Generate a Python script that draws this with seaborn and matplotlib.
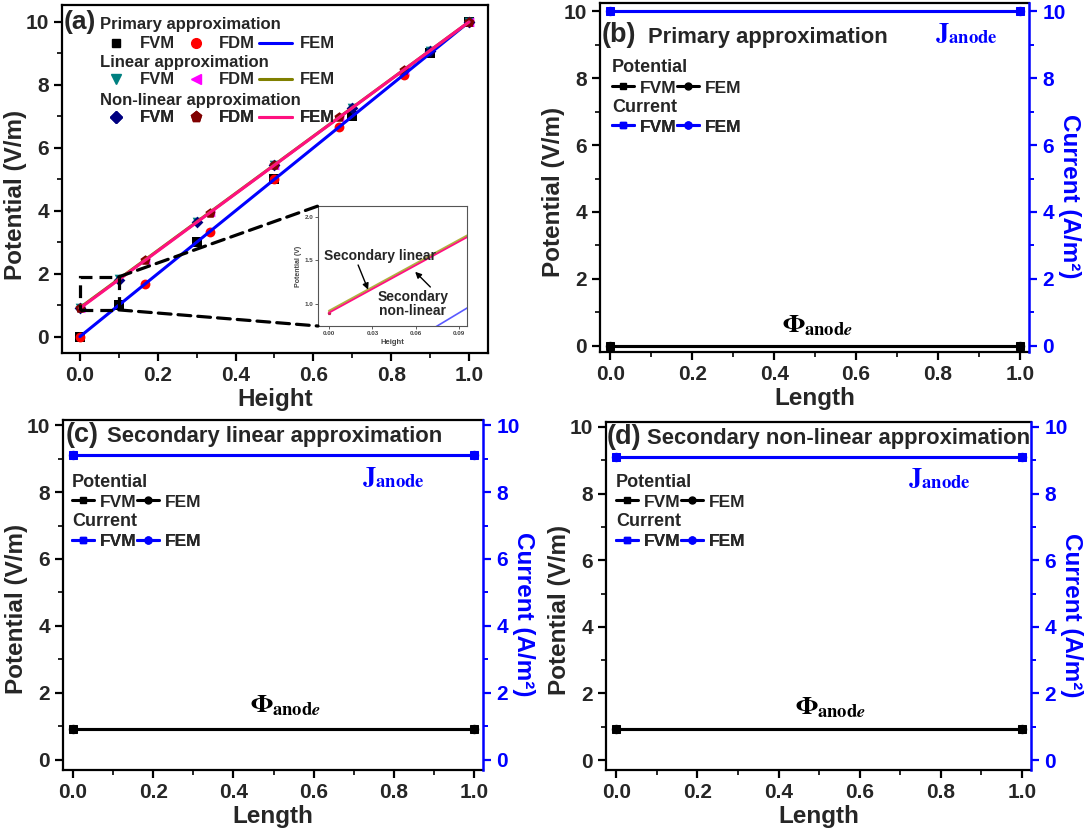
import numpy as np
import pandas as pd
import matplotlib
matplotlib.use('Agg')
import matplotlib.pyplot as plt
import seaborn as sns
from matplotlib.lines import Line2D
from matplotlib.patches import Rectangle, ConnectionPatch
from matplotlib.ticker import MultipleLocator

# ---------------- data ----------------
fvm_x = [0.0, 0.1, 0.3, 0.5, 0.7, 0.9, 1.0]
fdm_x = [0.0, 0.1667, 0.3333, 0.5, 0.6667, 0.8333, 1.0]
fem_x = [0.0, 1.0]
primary_fvm = [0.0, 1.0, 3.0, 5.0, 7.0, 9.0, 10.0]
primary_fdm = [0.0, 1.67, 3.33, 5.0, 6.67, 8.33, 10.0]
primary_fem = [0.0, 10.0]
linear_fvm = [0.92, 1.83, 3.64, 5.46, 7.27, 9.09, 10.0]
linear_fdm = [0.92, 2.43, 3.95, 5.46, 6.97, 8.49, 10.0]
linear_fem = [0.92, 10.0]
nonlin_fvm = [0.90, 1.81, 3.63, 5.45, 7.27, 9.09, 10.0]
nonlin_fdm = [0.90, 2.42, 3.93, 5.45, 6.97, 8.48, 10.0]
nonlin_fem = [0.90, 10.0]

length_x = [0.0, 1.0]
phi_b = [0.0, 0.0]
j_b = [10.0, 10.0]
phi_c = [0.93, 0.93]
j_c = [9.1, 9.1]
phi_d = [0.92, 0.92]
j_d = [9.1, 9.1]

zoom_x = (0.0, 0.1)
zoom_y = (0.85, 1.9)

# ---------------- style ----------------
sns.set_theme(style='ticks')
plt.rcParams['font.family'] = ['Liberation Sans', 'DejaVu Sans']
plt.rcParams['font.weight'] = 'bold'
plt.rcParams['axes.labelweight'] = 'bold'
plt.rcParams['axes.linewidth'] = 1.6

W, H = 1087, 830
fig = plt.figure(figsize=(W / 100, H / 100), dpi=100)


def fpt(x, y):
    return (x / W, 1 - y / H)


def rect(x0, y0, x1, y1):
    return [x0 / W, 1 - y1 / H, (x1 - x0) / W, (y1 - y0) / H]


TICK = 15
XLAB = 17.5
YLAB = 17.5


def style_axis(ax):
    ax.xaxis.set_major_locator(MultipleLocator(0.2))
    ax.xaxis.set_minor_locator(MultipleLocator(0.1))
    ax.yaxis.set_major_locator(MultipleLocator(2))
    ax.yaxis.set_minor_locator(MultipleLocator(1))
    ax.tick_params(which='major', direction='out', length=6, width=1.6,
                   labelsize=TICK, color='black')
    ax.tick_params(which='minor', direction='out', length=3.5, width=1.4)
    for s in ax.spines.values():
        s.set_linewidth(1.6)
        s.set_color('black')


# ================= panel (a) =================
axa = fig.add_axes(rect(62, 5, 488, 353))
style_axis(axa)
axa.set_xlim(-0.046, 1.049)
axa.set_ylim(-0.52, 10.54)

mk = dict(ax=axa, legend=False, linewidth=0, zorder=3)
sns.scatterplot(x=fvm_x, y=primary_fvm, marker='s', color='black', s=42, **mk)
sns.scatterplot(x=fdm_x, y=primary_fdm, marker='o', color='red', s=50, **mk)
sns.scatterplot(x=fvm_x, y=linear_fvm, marker='v', color='#008080', s=48, **mk)
sns.scatterplot(x=fdm_x, y=linear_fdm, marker='<', color='#FF00FF', s=48, **mk)
sns.scatterplot(x=fvm_x, y=nonlin_fvm, marker='D', color='#000080', s=36, **mk)
sns.scatterplot(x=fdm_x, y=nonlin_fdm, marker='p', color='#800000', s=58, **mk)
sns.lineplot(x=fem_x, y=primary_fem, color='blue', lw=2.2, ax=axa, zorder=4)
sns.lineplot(x=fem_x, y=linear_fem, color='#808000', lw=2.2, ax=axa, zorder=4)
sns.lineplot(x=fem_x, y=nonlin_fem, color='#FF1080', lw=2.2, ax=axa, zorder=4)

axa.set_xlabel('Height', fontsize=XLAB, labelpad=2)
axa.set_ylabel('Potential (V/m)', fontsize=YLAB, labelpad=-1)
axa.yaxis.label.set_y(0.455)

# zoom rectangle + connectors
axa.add_patch(Rectangle((zoom_x[0], zoom_y[0]), zoom_x[1] - zoom_x[0],
                        zoom_y[1] - zoom_y[0], fill=False, ls=(0, (4, 2.2)),
                        lw=2.3, color='black', zorder=5))

# inset
axi = fig.add_axes(rect(318, 206, 467, 326))
axi.set_facecolor('white')
sns.lineplot(x=fem_x, y=primary_fem, color='#5a5aff', lw=1.2, ax=axi)
sns.lineplot(x=fem_x, y=linear_fem, color='#B0B040', lw=1.6, ax=axi)
sns.lineplot(x=fem_x, y=nonlin_fem, color='#FF1080', lw=1.3, ax=axi)
sns.scatterplot(x=fdm_x[:1], y=nonlin_fdm[:1], marker='p', color='#C02050',
                s=8, ax=axi, legend=False, linewidth=0)
axi.set_xlim(-0.0076, 0.0953)
axi.set_ylim(0.747, 2.126)
axi.xaxis.set_major_locator(MultipleLocator(0.03))
axi.yaxis.set_major_locator(MultipleLocator(0.5))
axi.xaxis.set_major_formatter(plt.FormatStrFormatter('%.2f'))
axi.yaxis.set_major_formatter(plt.FormatStrFormatter('%.1f'))
axi.tick_params(labelsize=4.5, length=2, width=0.6, colors='#444444', pad=1.5)
for s in axi.spines.values():
    s.set_linewidth(0.8)
    s.set_color('#555555')
axi.set_xlabel('Height', fontsize=5.5, color='#444444', labelpad=2)
axi.set_ylabel('Potential (V)', fontsize=5, color='#444444', labelpad=2)
axi.text(0.0353, 1.552, 'Secondary linear', ha='center', va='center',
         fontsize=10)
axi.text(0.058, 1.0, 'Secondary\nnon-linear', ha='center', va='center',
         fontsize=10, linespacing=1.05)
arrow_kw = dict(arrowstyle='-|>', color='black', lw=1.0, mutation_scale=9,
                shrinkA=0, shrinkB=0)
axi.annotate('', xy=(0.027, 1.165), xytext=(0.0201, 1.448), arrowprops=arrow_kw)
axi.annotate('', xy=(0.0595, 1.37), xytext=(0.070, 1.195), arrowprops=arrow_kw)

for (xa, xb) in [((zoom_x[1], zoom_y[1]), (0, 1)), ((zoom_x[1], zoom_y[0]), (0, 0))]:
    con = ConnectionPatch(xyA=xa, coordsA=axa.transData, xyB=xb,
                          coordsB=axi.transAxes, ls=(0, (4, 2.2)), lw=2.3,
                          color='black', zorder=2)
    fig.add_artist(con)

# panel (a) legend
fig.text(*fpt(64, 22), '(a)', fontsize=19, va='center', ha='left')
heads = [('Primary approximation', 24), ('Linear approximation', 62),
         ('Non-linear approximation', 100)]
for t, yy in heads:
    fig.text(*fpt(100, yy), t, fontsize=12, va='center', ha='left')

rows = [
    (44, [Line2D([], [], ls='none', marker='s', color='black', ms=6),
          Line2D([], [], ls='none', marker='o', color='red', ms=7),
          Line2D([], [], color='blue', lw=2.2)]),
    (80, [Line2D([], [], ls='none', marker='v', color='#008080', ms=7),
          Line2D([], [], ls='none', marker='<', color='#FF00FF', ms=7),
          Line2D([], [], color='#808000', lw=2.2)]),
    (118, [Line2D([], [], ls='none', marker='D', color='#000080', ms=6),
           Line2D([], [], ls='none', marker='p', color='#800000', ms=8),
           Line2D([], [], color='#FF1080', lw=2.2)]),
]
for yy, hs in rows:
    lg = axa.legend(hs, ['FVM', 'FDM', 'FEM'], ncol=3, frameon=False,
                    fontsize=12, loc='center left',
                    bbox_to_anchor=fpt(100, yy), bbox_transform=fig.transFigure,
                    borderpad=0, borderaxespad=0, handlelength=1.95,
                    handletextpad=0.45, columnspacing=0.25)
    axa.add_artist(lg)


# ================= panels (b)-(d) =================
def length_panel(box, ylim, phi, jj, pot_markers, cur_markers, letter, title,
                 letter_xy, title_xy, leg_x, leg_y0, j_xy, phi_xy):
    ax = fig.add_axes(rect(*box))
    style_axis(ax)
    ax.set_xlim(-0.025, 1.022)
    ax.set_ylim(*ylim)
    ax.spines['right'].set_visible(False)
    ax2 = ax.twinx()
    ax2.set_ylim(*ylim)
    ax2.yaxis.set_major_locator(MultipleLocator(2))
    ax2.yaxis.set_minor_locator(MultipleLocator(1))
    ax2.tick_params(which='major', direction='out', length=6, width=1.6,
                    labelsize=TICK, colors='blue')
    ax2.tick_params(which='minor', direction='out', length=3.5, width=1.4,
                    colors='blue')
    for k in ['left', 'top', 'bottom']:
        ax2.spines[k].set_visible(False)
    ax2.spines['right'].set_color('blue')
    ax2.spines['right'].set_linewidth(1.8)

    sns.lineplot(x=length_x, y=phi, color='black', lw=2.2, marker=pot_markers[1],
                 ms=6, mec='black', ax=ax)
    sns.lineplot(x=length_x, y=phi, color='black', lw=2.2, marker=pot_markers[0],
                 ms=6, mec='black', ax=ax)
    sns.lineplot(x=length_x, y=jj, color='blue', lw=2.2, marker=cur_markers[1],
                 ms=6, mec='blue', ax=ax2)
    sns.lineplot(x=length_x, y=jj, color='blue', lw=2.2, marker=cur_markers[0],
                 ms=6, mec='blue', ax=ax2)

    ax.set_xlabel('Length', fontsize=XLAB, labelpad=2)
    ax.set_ylabel('Potential (V/m)', fontsize=YLAB, labelpad=-1)
    ax.yaxis.label.set_y(0.46)
    ax2.set_ylabel('Current (A/m²)', fontsize=YLAB, color='blue', rotation=270,
                   labelpad=11)
    ax2.yaxis.label.set_y(0.445)

    fig.text(*fpt(*letter_xy), letter, fontsize=19.5, va='center', ha='left')
    fig.text(*fpt(*title_xy), title, fontsize=15.8, va='center', ha='left')

    fig.text(*fpt(leg_x, leg_y0), 'Potential', fontsize=13, va='center', ha='left')
    fig.text(*fpt(leg_x, leg_y0 + 40), 'Current', fontsize=13, va='center', ha='left')
    for dy, col in [(20, 'black'), (59, 'blue')]:
        hs = [Line2D([], [], color=col, lw=2.2, marker='s', ms=5),
              Line2D([], [], color=col, lw=2.2, marker='o', ms=5)]
        lg = ax.legend(hs, ['FVM', 'FEM'], ncol=2, frameon=False, fontsize=12.5,
                       loc='center left', bbox_to_anchor=fpt(leg_x, leg_y0 + dy),
                       bbox_transform=fig.transFigure, borderpad=0,
                       borderaxespad=0, handlelength=1.25, handletextpad=0.35,
                       columnspacing=0.05)
        ax.add_artist(lg)

    fig.text(*fpt(*j_xy), r'$\mathbf{J}_{\mathbf{anode}}$', math_fontfamily='stix',
             color='blue', fontsize=19, va='center', ha='left')
    fig.text(*fpt(*phi_xy), r'$\mathbf{\Phi}_{\mathbf{anod}\mathit{e}}$',
             math_fontfamily='stix', color='black', fontsize=19, va='center',
             ha='center')
    return ax


length_panel((600, 3, 1029, 352), (-0.18, 10.24), phi_b, j_b, ('s', 'o'), ('s', 'o'),
             '(b)', 'Primary approximation', (602, 35), (648, 37), 612, 68,
             (935, 34), (817, 326))
length_panel((63, 420, 483, 770), (-0.3, 10.15), phi_c, j_c, ('s', 'o'), ('o', 's'),
             '(c)', 'Secondary linear approximation', (66, 435), (107, 436), 72, 482,
             (362, 478), (285, 706))
length_panel((606, 422, 1031, 770), (-0.3, 10.15), phi_d, j_d, ('s', 'o'), ('o', 's'),
             '(d)', 'Secondary non-linear approximation', (607, 437), (647, 438), 616, 482,
             (908, 479), (830, 708))

fig.savefig('out.png', dpi=100)
